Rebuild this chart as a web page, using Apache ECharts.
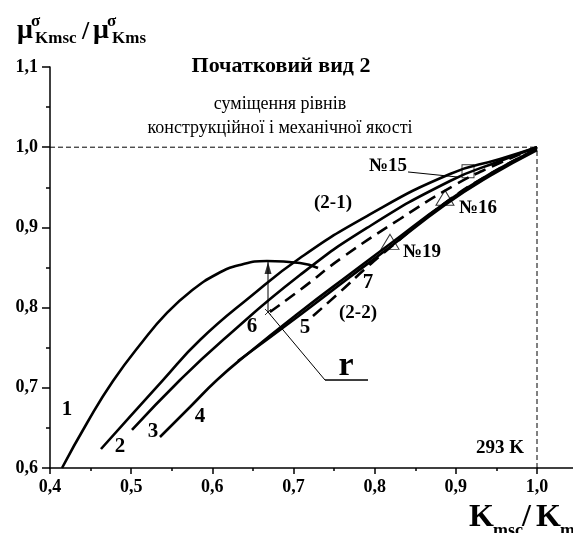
<!DOCTYPE html>
<html><head><meta charset="utf-8">
<script src="https://cdn.jsdelivr.net/npm/echarts@6/dist/echarts.min.js"></script>
<style>html,body{margin:0;padding:0;background:#fff}#c{width:573px;height:533px}</style>
</head><body><div id="c"></div>
<script>
// ---- data (x = Kmsc/Kms, y = mu ratio) ----
const xTickLabels = [0.4, 0.5, 0.6, 0.7, 0.8, 0.9, 1.0];
const yTickLabels = [0.6, 0.7, 0.8, 0.9, 1.0, 1.1];

const curve1 = [[0.4148,0.600],[0.4456,0.6561],[0.4776,0.7085],[0.5146,0.7584],[0.5441,0.7933],[0.5725,0.8195],[0.6057,0.8419],[0.6341,0.8531],[0.6673,0.8581],[0.7080,0.8556],[0.7302,0.8494]];
const curve2 = [[0.4628,0.6237],[0.5392,0.7097],[0.5848,0.7596],[0.6464,0.8132],[0.7080,0.8618],[0.7905,0.9142],[0.8928,0.9666],[0.9544,0.9853],[1.0,1.0]];
const curve3 = [[0.5010,0.6474],[0.5602,0.7097],[0.6131,0.7596],[0.7080,0.8406],[0.7905,0.8993],[0.8928,0.9579],[0.9544,0.9828],[1.0,1.0]];
const curve4 = [[0.5355,0.6387],[0.5725,0.6761],[0.6057,0.7097],[0.6402,0.7397],[0.7080,0.7945],[0.7696,0.8419],[0.8189,0.8793],[0.8866,0.9304],[0.9420,0.9666],[1.0,0.9978]];
const curve5 = [[0.6316,0.7334],[0.7080,0.7908],[0.7696,0.8382],[0.8189,0.8756],[0.8866,0.9279],[0.9420,0.9641],[1.0,0.9965]];
const curve6 = [[0.6710,0.7945],[0.7080,0.8219],[0.7610,0.8631],[0.8312,0.9105],[0.8965,0.9516],[0.9458,0.9766],[1.0,1.0]];
const curve7 = [[0.7240,0.7895],[0.7573,0.8195],[0.7881,0.8481],[0.8213,0.8768],[0.8866,0.9304],[0.9420,0.9666],[1.0,0.9978]];

const refH = [[0.4,1.0],[1.0,1.0]];
const refV = [[1.0,0.6],[1.0,1.0]];
const arrowR = [[0.6686,0.7945],[0.6686,0.857]];
const leaderR = [[0.6686,0.7945],[0.7388,0.7097],[0.7918,0.7097]];
const leader15 = [[0.8411,0.9691],[0.9015,0.9629]];
const pt15 = [[0.915,0.970]];
const pt16 = [[0.8866,0.937]];
const pt19 = [[0.8189,0.882]];

const F = 'Liberation Serif, Times New Roman, serif';
const chart = echarts.init(document.getElementById('c'), null, {renderer:'canvas'});
const fmt = v => Number(v).toFixed(1).replace('.', ',');
function solid(d){return {type:'line',data:d,smooth:0.5,showSymbol:false,clip:false,silent:true,lineStyle:{color:'#000',width:2.6},z:3};}
function dashed(d){return {type:'line',data:d,smooth:0.5,showSymbol:false,clip:false,silent:true,lineStyle:{color:'#000',width:2.6,type:[12,7]},z:3};}
function thin(d,dash){return {type:'line',data:d,smooth:false,showSymbol:false,clip:false,silent:true,lineStyle:{color:'#000',width:1,type:dash||'solid'},z:2};}
function txt(t,x,y,size,opt){return {type:'text',x:x,y:y,style:{text:t,font:(opt&&opt.normal?'':'bold ')+size+'px '+F,fill:'#000',align:(opt&&opt.align)||'center',verticalAlign:'middle'}};}

chart.setOption({
  animation:false,
  backgroundColor:'#fff',
  grid:{left:50,top:67,right:36,bottom:65,containLabel:false},
  xAxis:{type:'value',min:0.4,max:1.0,interval:0.1,
    axisLine:{lineStyle:{color:'#000',width:1.5}},
    axisTick:{length:6,lineStyle:{color:'#000',width:1.5}},
    minorTick:{show:true,splitNumber:2,length:3,lineStyle:{color:'#000',width:1.5}},
    splitLine:{show:false},
    axisLabel:{formatter:fmt,color:'#000',fontFamily:F,fontWeight:'bold',fontSize:18,margin:10}},
  yAxis:{type:'value',min:0.6,max:1.1,interval:0.1,
    axisLine:{lineStyle:{color:'#000',width:1.5}},
    axisTick:{length:8,lineStyle:{color:'#000',width:1.5}},
    minorTick:{show:true,splitNumber:2,length:4,lineStyle:{color:'#000',width:1.5}},
    splitLine:{show:false},
    axisLabel:{formatter:fmt,color:'#000',fontFamily:F,fontWeight:'bold',fontSize:18,margin:12}},
  series:[
    thin(refH,[5,3]), thin(refV,[5,3]),
    solid(curve1), solid(curve2), solid(curve3), solid(curve4), solid(curve5),
    dashed(curve6), dashed(curve7),
    thin(leaderR), thin(leader15), thin(arrowR),
    {type:'scatter',data:[arrowR[1]],symbol:'triangle',symbolSize:[7,12],symbolOffset:[0,'50%'],silent:true,itemStyle:{color:'#000'},z:6},
    {type:'scatter',data:[arrowR[0]],symbol:'path://M0,0L10,10M10,0L0,10',symbolSize:6,silent:true,itemStyle:{color:'none',borderColor:'#000',borderWidth:1},z:5},
    {type:'scatter',data:pt15,symbol:'rect',symbolSize:[12,13],silent:true,itemStyle:{color:'rgba(0,0,0,0)',borderColor:'#000',borderWidth:1},z:5},
    {type:'scatter',data:pt16.concat(pt19),symbol:'triangle',symbolSize:[18,15],silent:true,itemStyle:{color:'rgba(0,0,0,0)',borderColor:'#000',borderWidth:1},z:5}
  ],
  graphic:[
    {type:'line',shape:{x1:537,y1:468,x2:573,y2:468},style:{stroke:'#000',lineWidth:1.5}},
    txt('Початковий вид 2',281,66,22),
    txt('суміщення рівнів',280,104,18,{normal:true}),
    txt('конструкційної і механічної якості',280,128,18,{normal:true}),
    txt('1',67,410,21), txt('2',120,447,21), txt('3',153,432,21), txt('4',200,417,21),
    txt('5',305,328,21), txt('6',252,327,21), txt('7',368,283,21),
    txt('(2-1)',333,203,19), txt('(2-2)',358,313,19),
    txt('№15',388,166,19), txt('№16',478,208,19), txt('№19',422,252,19),
    txt('r',346,366,34),
    {type:'line',shape:{x1:325,y1:380,x2:368,y2:380},style:{stroke:'#000',lineWidth:1}},
    txt('293 K',500,448,19),
    // y-axis title
    txt('μ',17,31,28,{align:'left'}), txt('σ',31,22,17,{align:'left'}), txt('Kmsc',35,39,17,{align:'left'}),
    txt('/',82,32,26,{align:'left'}),
    txt('μ',93,31,28,{align:'left'}), txt('σ',107,22,17,{align:'left'}), txt('Kms',112,39,17,{align:'left'}),
    // x-axis title
    txt('K',469,518,32,{align:'left'}), txt('msc',493,531,18,{align:'left'}),
    txt('/',522,518,32,{align:'left'}),
    txt('K',536,518,32,{align:'left'}), txt('ms',560,531,18,{align:'left'})
  ]
});
</script></body></html>
